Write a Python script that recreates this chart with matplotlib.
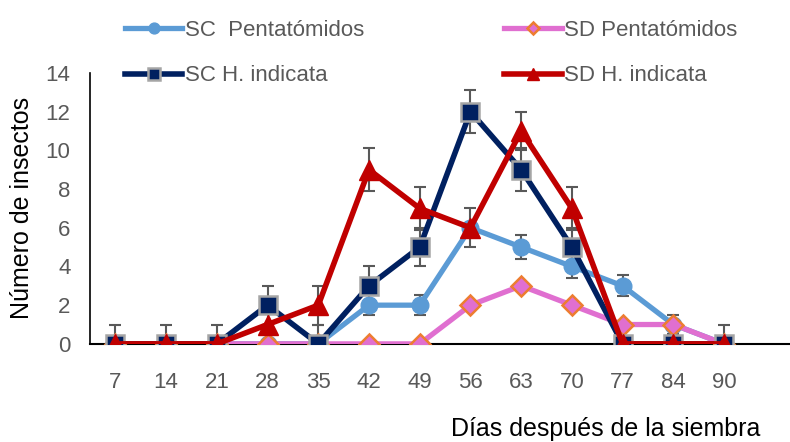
import matplotlib
matplotlib.use('Agg')
import matplotlib.pyplot as plt
import numpy as np

# Datos
dias = ['7', '14', '21', '28', '35', '42', '49', '56', '63', '70', '77', '84', '90']
sc_pent = [0, 0, 0, 0, 0, 2, 2, 6, 5, 4, 3, 1, 0]
sd_pent = [0, 0, 0, 0, 0, 0, 0, 2, 3, 2, 1, 1, 0]
sc_hind = [0, 0, 0, 2, 0, 3, 5, 12, 9, 5, 0, 0, 0]
sd_hind = [0, 0, 0, 1, 2, 9, 7, 6, 11, 7, 0, 0, 0]

err_sc_pent = [0, 0, 0, 0, 0, 0.5, 0.5, 1, 0.6, 0.6, 0.55, 0.5, 0]
err_sc_hind = [1, 1, 1, 1, 1, 1, 1, 1.1, 1.1, 1, 0, 0, 1]
err_sd_hind = [0, 0, 0, 0, 1, 1.1, 1.1, 0, 1, 1.1, 0, 0, 0]

x = np.arange(len(dias))
gris = '#595959'
fuente = ['Liberation Sans', 'DejaVu Sans']

fig = plt.figure(figsize=(7.9, 4.42), dpi=100)
ax = fig.add_axes([0.114, 0.222, 0.886, 0.613])

eb = dict(fmt='none', ecolor=gris, elinewidth=1.5, capsize=4, capthick=1.5, zorder=1)
ax.errorbar(x, sc_pent, yerr=err_sc_pent, **eb)
ax.errorbar(x, sc_hind, yerr=err_sc_hind, **eb)
ax.errorbar(x, sd_hind, yerr=err_sd_hind, **eb)

l1, = ax.plot(x, sc_pent, color='#5B9BD5', lw=3.8, marker='o', ms=12,
              mfc='#5B9BD5', mec='#5B9BD5', label='SC  Pentatómidos', zorder=2)
l2, = ax.plot(x, sd_pent, color='#E06FD0', lw=3.8, marker='D', ms=10,
              mfc='#E06FD0', mec='#ED7D31', mew=1.8, label='SD Pentatómidos', zorder=3)
l3, = ax.plot(x, sc_hind, color='#002060', lw=4, marker='s', ms=12.5,
              mfc='#002060', mec='#A5A5A5', mew=1.8, label='SC H. indicata', zorder=4)
l4, = ax.plot(x, sd_hind, color='#C00000', lw=4, marker='^', ms=14,
              mfc='#C00000', mec='#C00000', label='SD H. indicata', zorder=5)

ax.set_xlim(-0.5, 13.3)
ax.set_ylim(0, 14)
ax.set_yticks(range(0, 15, 2))
ax.set_xticks(x)
ax.set_xticklabels(dias)
for s in ['top', 'right']:
    ax.spines[s].set_visible(False)
ax.spines['left'].set_linewidth(1.2)
ax.spines['bottom'].set_linewidth(1.5)
ax.tick_params(axis='x', length=0, pad=20, labelsize=16, labelcolor=gris)
ax.tick_params(axis='y', length=0, pad=14, labelsize=16, labelcolor=gris)
for lab in ax.get_xticklabels() + ax.get_yticklabels():
    lab.set_family(fuente)

fig.text(0.028, 0.53, 'Número de insectos', rotation=90, ha='center', va='center',
         fontsize=18, color='black', family=fuente)
fig.text(0.767, 0.03, 'Días después de la siembra', ha='center', va='center',
         fontsize=18, color='black', family=fuente)

fig.legend(handles=[l1, l3, l2, l4], ncol=2, loc='upper left',
           bbox_to_anchor=(0.1325, 1.0), frameon=False,
           prop={'family': fuente, 'size': 16},
           handlelength=2.6, handletextpad=0.1, columnspacing=6.3,
           labelspacing=1.1, labelcolor=gris, markerscale=0.65)

plt.savefig('out.png', dpi=100)
